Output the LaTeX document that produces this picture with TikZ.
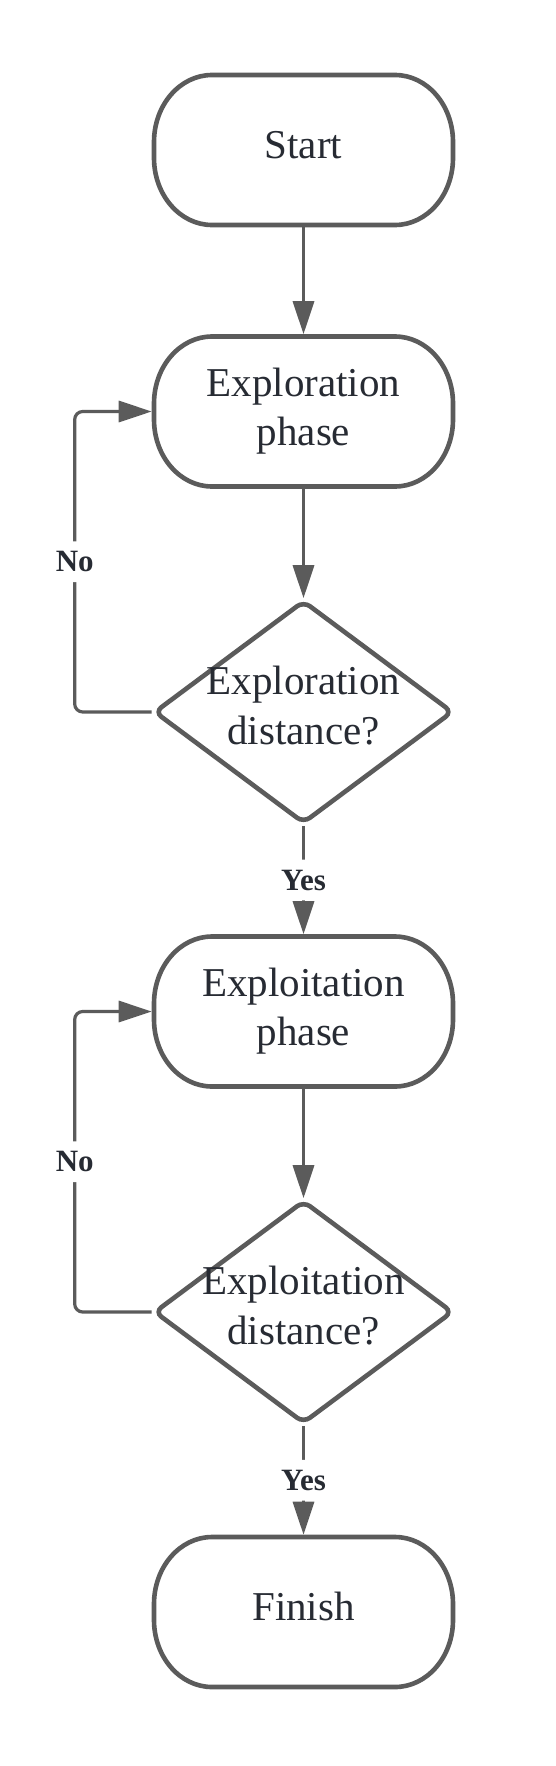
\documentclass[tikz,border=0pt]{standalone}
\usepackage{fontspec}
\setmainfont{Liberation Serif}
\usetikzlibrary{shapes.geometric,arrows.meta,calc}
\definecolor{edge}{HTML}{5B5B5B}
\definecolor{txt}{HTML}{272B33}
\newcommand\termoutline[1]{%
  \draw[border]
    ($(#1.center)+(-91.5,-75)$) -- ($(#1.center)+(91.5,-75)$)
    arc[start angle=90,end angle=0,x radius=58pt,y radius=67pt]
    -- ($(#1.center)+(149.5,8)$)
    arc[start angle=0,end angle=-90,x radius=58pt,y radius=67pt]
    -- ($(#1.center)+(-91.5,75)$)
    arc[start angle=-90,end angle=-180,x radius=58pt,y radius=67pt]
    -- ($(#1.center)+(-149.5,-8)$)
    arc[start angle=180,end angle=90,x radius=58pt,y radius=67pt]
    -- cycle;}
\begin{document}
\begin{tikzpicture}[x=1pt,y=-1pt,
  border/.style={draw=edge, line width=4.6pt},
  term/.style={rectangle, minimum width=299pt, minimum height=150pt,
    inner sep=0pt, outer sep=2.3pt, align=center,
    text=txt, font=\fontsize{41}{49}\selectfont},
  single/.style={text height=28pt, text depth=11pt},
  decide/.style={draw=edge, line width=4.6pt, diamond, rounded corners=8pt,
    minimum width=299pt, minimum height=223pt, inner sep=0pt},
  dtext/.style={align=center, text=txt, font=\fontsize{41}{50}\selectfont, inner sep=0pt},
  conn/.style={draw=edge, line width=3.2pt, -{Triangle[length=33pt,width=21pt]}, rounded corners=8pt},
  lbl/.style={fill=white, text=txt, font=\bfseries\fontsize{31}{36}\selectfont,
    inner xsep=2pt, inner ysep=10pt}
]
\fill[white] (0,0) rectangle (555,1766);
\useasboundingbox (0,0) rectangle (555,1766);

\node[term, single] (start) at (303.5,150) {Start};
\node[term] (p1) at (303.5,411.5) {Exploration\\phase};
\node[decide] (d1) at (303.5,712) {};
\node[dtext, yshift=6pt] (d1t) at (d1) {Exploration\\distance?};
\node[term] (p2) at (303.5,1011.5) {Exploitation\\phase};
\node[decide] (d2) at (303.5,1312) {};
\node[dtext, yshift=6pt] (d2t) at (d2) {Exploitation\\distance?};
\node[term, single] (finish) at (303.5,1612) {Finish};

\termoutline{start}
\termoutline{p1}
\termoutline{p2}
\termoutline{finish}

\draw[conn] (start) -- (p1);
\draw[conn] (p1) -- (d1);
\draw[conn] (d1) -- node[lbl] (y1) {Yes} (p2);
\draw[conn] (d1.west) -- ++(-77,0) |- node[pos=0.25, lbl] (n1) {No} (p1.west);
\draw[conn] (p2) -- (d2);
\draw[conn] (d2) -- node[lbl] (y2) {Yes} (finish);
\draw[conn] (d2.west) -- ++(-77,0) |- node[pos=0.25, lbl] (n2) {No} (p2.west);
\end{tikzpicture}
\end{document}
